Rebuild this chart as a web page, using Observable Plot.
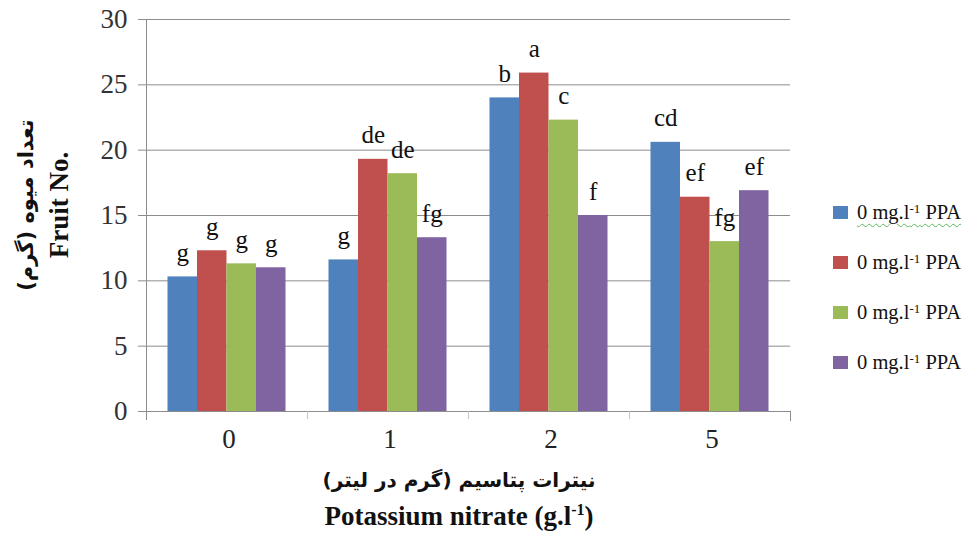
<!DOCTYPE html>
<html>
<head>
<meta charset="utf-8">
<script src="https://cdn.jsdelivr.net/npm/d3@7"></script>
<script src="https://cdn.jsdelivr.net/npm/@observablehq/plot@0.6"></script>
<style>
  body { margin: 0; background: #fff; }
  #wrap { position: relative; width: 966px; height: 536px; overflow: hidden; background: #fff;
          font-family: "Liberation Serif", "DejaVu Sans", serif; color: #111; }
  #chart { position: absolute; left: 0; top: 0; }
  #ytitle { position: absolute; left: 43px; top: 205px; transform: translate(-50%, -50%) rotate(-90deg);
            white-space: nowrap; text-align: center; font-weight: bold; font-size: 27px; line-height: 33px; }
  #xtitle { position: absolute; left: 459px; top: 462px; transform: translateX(-50%);
            white-space: nowrap; text-align: center; font-weight: bold; font-size: 27px; line-height: 36px; }
  .fa { font-family: "DejaVu Sans", sans-serif; font-size: 21px; }
  #xtitle .fa { font-size: 20px; }
  #legend { position: absolute; left: 833px; top: 187px; }
  .lrow { height: 50px; display: flex; align-items: center; font-size: 20.5px; white-space: nowrap; }
  .sw { width: 15px; height: 13px; margin-right: 9px; flex: none; }
  .lrow sup { font-size: 13px; vertical-align: 6px; line-height: 0; }
  .squig { text-decoration: underline wavy #5cb85c; text-decoration-thickness: 1px; text-underline-offset: 4px; }
</style>
</head>
<body>
<div id="wrap">
  <div id="chart"></div>
  <div id="ytitle"></div>
  <div id="xtitle"></div>
  <div id="legend"></div>
</div>
<script>
// ---- data ----
const groups = ["0", "1", "2", "5"];
const seriesLabels = ["0 mg.l|-1| PPA", "0 mg.l|-1| PPA", "0 mg.l|-1| PPA", "0 mg.l|-1| PPA"];
const seriesColors = ["#4F81BD", "#C0504D", "#9BBB59", "#8064A2"];
const series1 = [10.3, 11.6, 24.0, 20.6];
const series2 = [12.3, 19.3, 25.9, 16.4];
const series3 = [11.3, 18.2, 22.3, 13.0];
const series4 = [11.0, 13.3, 15.0, 16.9];
const letters1 = ["g", "g", "b", "cd"];
const letters2 = ["g", "de", "a", "ef"];
const letters3 = ["g", "de", "c", "fg"];
const letters4 = ["g", "fg", "f", "ef"];
const yTicks = [0, 5, 10, 15, 20, 25, 30];
const yTitleFa = "تعداد میوه (گرم)";
const yTitleEn = "Fruit No.";
const xTitleFa = "نیترات پتاسیم (گرم در لیتر)";
const xTitleEn = ["Potassium nitrate  (g.l", "-1", ")"];

const seriesValues = [series1, series2, series3, series4];
const seriesLetters = [letters1, letters2, letters3, letters4];
const table = groups.flatMap((g, i) => seriesValues.map((vals, j) => ({
  group: g, series: j, value: vals[i], letter: seriesLetters[j][i]
})));

// ---- layout ----
const W = 800, H = 460, ML = 146, MR = 10, MT = 19, MB = 49;
const PI = 0.267, PO = 0.1335;
const step = (W - ML - MR) / (groups.length - PI + 2 * PO);
const bw = step * (1 - PI);
const sub = bw / seriesValues.length;
const frameH = H - MT - MB;
const axisGray = "#8c8c8c";

const barMarks = seriesValues.map((_, j) => Plot.barY(table.filter(d => d.series === j), {
  x: "group", y: "value", fill: seriesColors[j],
  insetLeft: j * sub, insetRight: (seriesValues.length - 1 - j) * sub
}));
const textMarks = seriesValues.map((_, j) => Plot.text(table.filter(d => d.series === j), {
  x: "group", y: "value", text: "letter",
  dx: (j - (seriesValues.length - 1) / 2) * sub, dy: -24,
  fontSize: 25, fill: "#111"
}));

const chart = Plot.plot({
  width: W, height: H,
  marginLeft: ML, marginRight: MR, marginTop: MT, marginBottom: MB,
  style: { fontFamily: "Liberation Serif, serif", background: "transparent", overflow: "visible" },
  x: { type: "band", domain: groups, paddingInner: PI, paddingOuter: PO, round: false },
  y: { domain: [0, 30] },
  marks: [
    Plot.gridY(yTicks, { stroke: axisGray, strokeOpacity: 1 }),
    ...barMarks,
    Plot.ruleY([0], { stroke: axisGray }),
    Plot.ruleX([groups[0]], { dx: -step / 2, stroke: axisGray, insetBottom: -9 }),
    Plot.ruleX(groups.slice(1), { dx: -step / 2, stroke: "#c4c4c4", insetTop: frameH, insetBottom: -8 }),
    Plot.ruleX([groups[groups.length - 1]], { dx: step / 2, stroke: axisGray, insetTop: frameH, insetBottom: -10 }),
    ...textMarks,
    Plot.axisY(yTicks, { tickSize: 8, tickPadding: 11, fontSize: 27, stroke: axisGray, fill: "#333", label: null }),
    Plot.axisX({ tickSize: 0, tickPadding: 17, fontSize: 27, fill: "#222", label: null, dx: 2 })
  ]
});
document.getElementById("chart").appendChild(chart);

// ---- titles ----
document.getElementById("ytitle").innerHTML =
  `<div class="fa" dir="rtl">${yTitleFa}</div><div>${yTitleEn}</div>`;
document.getElementById("xtitle").innerHTML =
  `<div class="fa" dir="rtl">${xTitleFa}</div><div>${xTitleEn[0]}<sup style="font-size:16px;vertical-align:10px;line-height:0">${xTitleEn[1]}</sup>${xTitleEn[2]}</div>`;

// ---- legend ----
const legend = document.getElementById("legend");
seriesLabels.forEach((lab, j) => {
  const [a, b, c] = lab.split("|");
  const row = document.createElement("div");
  row.className = "lrow";
  row.innerHTML = `<span class="sw" style="background:${seriesColors[j]}"></span>` +
    `<span class="${j === 0 ? "squig" : ""}">${a}<sup>${b}</sup>${c}</span>`;
  legend.appendChild(row);
});
</script>
</body>
</html>
